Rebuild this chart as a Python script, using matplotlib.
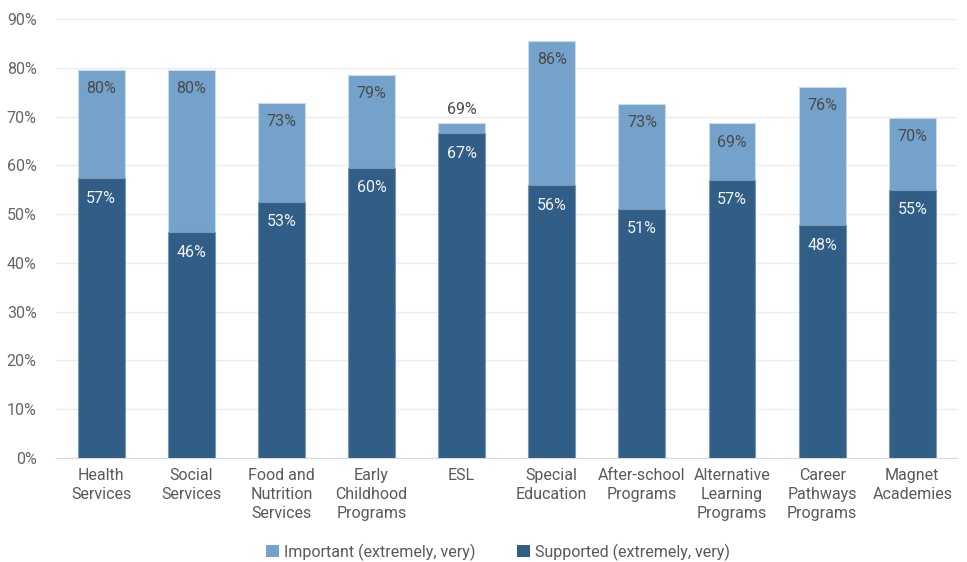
import numpy as np
import matplotlib
matplotlib.use('Agg')
import matplotlib.pyplot as plt
from matplotlib.patches import Patch

plt.rcParams['font.family'] = ['Roboto', 'DejaVu Sans']

categories = ['Health\nServices', 'Social\nServices', 'Food and\nNutrition\nServices',
              'Early\nChildhood\nPrograms', 'ESL', 'Special\nEducation',
              'After-school\nPrograms', 'Alternative\nLearning\nPrograms',
              'Career\nPathways\nPrograms', 'Magnet\nAcademies']
important = [79.5, 79.5, 72.9, 78.6, 68.7, 85.5, 72.6, 68.6, 76.0, 69.8]
supported = [57.4, 46.3, 52.6, 59.5, 66.6, 55.9, 51.1, 57.1, 47.7, 55.0]

light = '#74a2cb'
dark = '#305e86'

fig = plt.figure(figsize=(9.67, 5.62), dpi=100)
ax = fig.add_axes([0.058, 0.185, 0.932, 0.781])

x = np.arange(len(categories))
w = 0.52
ax.bar(x, important, width=w, color=light, edgecolor='#c9dbeb', linewidth=0.8, zorder=2)
ax.bar(x, supported, width=w, color=dark, edgecolor='#7f98b0', linewidth=0.8, zorder=3)

for i in range(len(x)):
    imp, sup = important[i], supported[i]
    if imp - sup < 6:
        # bar too thin for the label, put it above
        ax.text(x[i], imp + 1.3, '{:.0f}%'.format(imp), ha='center', va='bottom',
                fontsize=11.5, color='#4a4a4a', zorder=4)
    else:
        ax.text(x[i], imp - 3.8, '{:.0f}%'.format(imp), ha='center', va='center',
                fontsize=11.5, color='#4a4a4a', zorder=4)
    ax.text(x[i], sup - 4.1, '{:.0f}%'.format(sup), ha='center', va='center',
            fontsize=11.5, color='#f2f2f2', zorder=4)

ax.set_xlim(-0.5, len(x) - 0.5)
ax.set_ylim(0, 90)
ax.set_yticks(np.arange(0, 91, 10))
ax.set_yticklabels(['{}%'.format(v) for v in range(0, 91, 10)])
ax.set_xticks(x)
ax.set_xticklabels(categories, fontsize=11.5, color='#595959', linespacing=1.35)
ax.tick_params(axis='y', labelsize=11.5, labelcolor='#666666', length=0, pad=14)
ax.tick_params(axis='x', length=0, pad=7)
ax.grid(axis='y', color='#ececec', linewidth=1, zorder=0)
for s in ['top', 'right', 'left']:
    ax.spines[s].set_visible(False)
ax.spines['bottom'].set_color('#d9d9d9')
ax.set_axisbelow(True)

handles = [Patch(facecolor=light, label='Important (extremely, very)'),
           Patch(facecolor=dark, label='Supported (extremely, very)')]
fig.legend(handles=handles, loc='center', bbox_to_anchor=(0.515, 0.018), ncol=2,
           frameon=False, fontsize=11.5, handlelength=0.8, handleheight=0.8,
           handletextpad=0.3, columnspacing=2.6, labelcolor='#595959')

fig.savefig('out.png', dpi=100, facecolor='white')
